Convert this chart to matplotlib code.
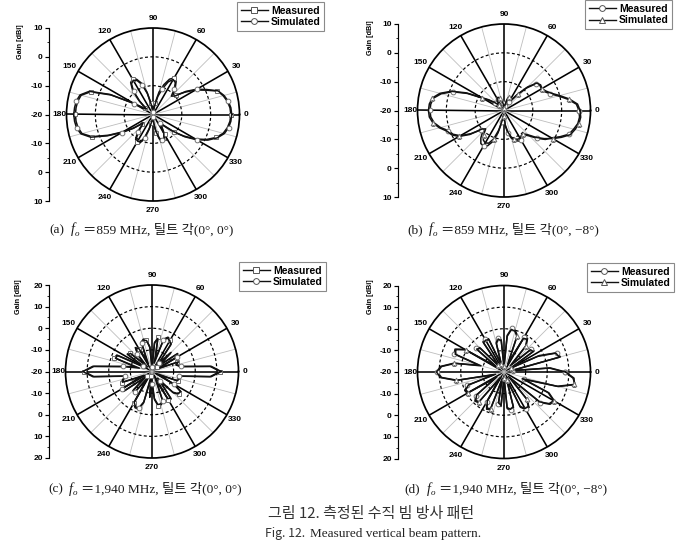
import numpy as np
import matplotlib
matplotlib.use('Agg')
import matplotlib.pyplot as plt
from matplotlib.lines import Line2D
from matplotlib.ticker import FixedLocator, FixedFormatter, MultipleLocator

W, H = 691, 545
fig = plt.figure(figsize=(W / 100, H / 100), dpi=100)

# ---------------- data (gain in dBi every 5 degrees, 0..355) ----------------
angles_deg = np.arange(0, 360, 5)

a_meas = [7.0, 6.8, 6.2, 5.2, 3.8, 0.0, -3.0, -6.5, -9.5, -10.0, -8.0, -6.0,
          -5.3, -6.5, -9.0, -12.0, -16.0, -18.5, -19.0, -18.0, -16.0, -12.0, -8.5, -6.5,
          -5.8, -6.5, -9.0, -13.0, -16.5, -16.0, -12.0, -4.0, 3.0, 5.8, 6.5, 6.8,
          6.9, 6.8, 6.4, 5.5, 2.5, -3.0, -8.0, -12.0, -15.0, -14.0, -11.5, -9.5,
          -8.8, -9.0, -11.0, -14.5, -17.0, -18.0, -18.5, -16.5, -13.5, -11.0, -10.2, -10.5,
          -12.0, -14.5, -15.5, -14.0, -10.5, -7.0, -3.0, 0.5, 3.3, 5.2, 6.2, 6.8]
a_sim = [7.3, 7.1, 6.5, 5.5, 4.0, 0.5, -2.5, -6.0, -10.0, -11.0, -8.5, -6.5,
         -6.0, -7.5, -10.5, -13.5, -17.0, -19.0, -19.0, -18.5, -16.5, -12.5, -9.0, -7.0,
         -6.3, -7.0, -9.5, -13.5, -17.0, -16.5, -12.5, -3.5, 3.5, 6.2, 7.0, 7.3,
         7.5, 7.3, 6.9, 5.9, 3.0, -2.5, -7.5, -11.5, -15.5, -14.5, -12.0, -10.0,
         -9.3, -9.5, -11.5, -15.0, -17.5, -18.5, -19.0, -17.0, -14.0, -11.5, -10.7, -11.0,
         -12.5, -15.0, -16.0, -14.5, -11.0, -6.5, -2.5, 1.0, 3.7, 5.6, 6.6, 7.1]

b_meas = [6.0, 5.2, 2.5, -0.5, -3.0, -4.5, -5.0, -4.8, -5.5, -9.0, -13.0, -16.0,
          -16.5, -15.5, -15.3, -16.5, -18.5, -19.0, -19.0, -18.5, -17.5, -16.5, -16.0, -15.5,
          -15.5, -16.5, -18.0, -17.5, -16.0, -14.0, -11.5, -6.0, -1.0, 2.5, 4.8, 5.5,
          5.7, 5.5, 4.6, 2.8, 0.5, -0.5, -2.5, -6.0, -9.5, -9.5, -7.5, -6.0,
          -5.8, -6.5, -8.5, -12.0, -16.0, -18.0, -17.5, -14.5, -12.0, -10.0, -9.0, -8.3,
          -8.0, -8.5, -9.0, -7.5, -5.0, -2.5, -1.0, 1.5, 4.0, 5.0, 6.0, 6.3]
b_sim = [6.4, 5.6, 3.0, 0.0, -2.5, -4.0, -4.8, -4.5, -5.2, -8.5, -12.5, -15.5,
         -16.0, -15.0, -15.0, -16.0, -18.0, -19.0, -19.0, -18.0, -17.0, -16.0, -15.5, -15.0,
         -15.2, -16.0, -17.5, -17.0, -15.5, -13.5, -11.0, -5.5, -0.5, 3.0, 5.2, 6.0,
         6.2, 6.0, 5.0, 3.2, 1.0, 0.0, -2.0, -5.5, -10.0, -11.0, -9.0, -7.5,
         -7.0, -7.5, -9.5, -13.0, -16.5, -18.5, -18.0, -15.0, -12.5, -10.5, -9.5, -9.0,
         -8.8, -9.5, -9.5, -8.0, -5.5, -3.0, -0.5, 2.0, 4.5, 5.5, 6.4, 6.7]

c_meas = [11.5, 7.0, -7.0, -8.0, -7.5, -17.0, -6.0, -6.0, -17.0, -8.0, -16.0, -4.5,
          -3.0, -2.5, -4.0, -16.0, -4.0, -7.0, -19.0, -9.0, -5.0, -4.5, -5.5, -16.0,
          -8.0, -6.5, -10.0, -17.0, -6.5, -6.0, -17.0, -2.0, -1.5, -14.0, -7.0, 7.0,
          11.5, 7.0, -8.0, -6.0, -5.0, -16.0, -3.5, -4.0, -17.0, -8.0, -7.0, -17.0,
          -3.0, -1.5, -1.5, -5.0, -18.0, -8.0, -16.0, -7.0, -4.0, -4.0, -5.0, -17.0,
          -5.0, -4.5, -16.0, -6.0, -3.5, -3.5, -8.0, -18.0, -7.0, -7.5, -8.0, 7.0]
c_sim = [12.0, 7.5, -6.5, -8.5, -7.0, -16.0, -6.5, -5.5, -15.0, -7.5, -15.0, -5.0,
         -3.5, -3.0, -4.5, -14.0, -4.5, -6.5, -18.0, -8.5, -5.5, -5.0, -6.0, -14.0,
         -7.5, -7.0, -9.5, -15.0, -7.0, -6.5, -15.0, -2.5, -2.0, -12.0, -6.5, 7.5,
         12.0, 7.5, -7.5, -6.5, -5.5, -14.0, -4.0, -4.5, -15.0, -7.5, -7.5, -15.0,
         -3.5, -2.0, -2.0, -5.5, -16.0, -8.5, -14.0, -7.5, -4.5, -4.5, -5.5, -15.0,
         -5.5, -5.0, -14.0, -6.5, -4.0, -4.0, -8.5, -16.0, -7.5, -7.0, -7.5, 7.5]

d_meas = [8.0, 1.0, -17.0, 7.0, 6.0, -2.0, -17.0, -3.0, -3.5, -16.0, -4.0, -1.0,
          -1.5, -16.0, -2.0, 0.0, 0.5, -3.0, -18.0, -5.0, -4.0, -6.0, -17.0, -3.0,
          -2.5, -3.0, -17.0, -4.0, -3.0, -16.0, 1.0, 5.0, 4.5, -8.0, 3.0, 9.0,
          10.8, 9.0, 2.0, -16.0, -2.0, 0.0, -0.5, -16.0, -3.0, -1.0, -1.5, -17.0,
          -4.0, -1.0, -1.5, -17.0, -5.0, -4.0, -18.0, -3.0, -2.0, -3.0, -17.0, -2.0,
          0.0, 0.0, -3.0, -17.0, 2.0, 6.0, 7.0, 3.0, -10.0, 6.0, 13.5, 12.0]
d_sim = [8.5, 1.5, -16.0, 6.5, 5.5, -3.0, -16.0, -3.5, -4.0, -15.0, -4.5, -1.5,
         -2.0, -15.0, -2.5, -0.5, 0.0, -3.5, -17.0, -5.5, -4.5, -6.5, -16.0, -3.5,
         -3.0, -3.5, -16.0, -4.5, -3.5, -15.0, 0.5, 4.5, 4.0, -9.0, 3.5, 9.5,
         11.2, 9.5, 2.5, -15.0, -2.5, -0.5, -1.0, -15.0, -3.5, -1.5, -2.0, -16.0,
         -4.5, -1.5, -2.0, -16.0, -5.5, -4.5, -17.0, -3.5, -2.5, -3.5, -16.0, -2.5,
         -0.5, -0.5, -3.5, -16.0, 1.5, 5.5, 6.5, 2.5, -11.0, 5.5, 13.0, 12.5]

gain_ticks_859 = ['10', '0', '-10', '-20', '-10', '0', '10']
gain_ticks_1940 = ['20', '10', '0', '-10', '-20', '-10', '0', '10', '20']
legend_labels = ['Measured', 'Simulated']

SANS = ['Liberation Sans', 'DejaVu Sans']
SERIF = ['Liberation Serif', 'Noto Sans CJK KR', 'DejaVu Serif']
KOR = ['Noto Sans CJK KR', 'DejaVu Sans']

panels = [
    dict(c=(153, 114.5), R=86.5, rlim=(-20, 10), rings=[-10, 0], meas=a_meas, sim=a_sim,
         mm='s', sm='o', ax_x=49, ticks=gain_ticks_859, glabel=(20, 42), leg=(237, 2)),
    dict(c=(504, 110.5), R=86.5, rlim=(-20, 10), rings=[-10, 0], meas=b_meas, sim=b_sim,
         mm='o', sm='^', ax_x=398, ticks=gain_ticks_859, glabel=(370, 38), leg=(585, 0.5)),
    dict(c=(152, 371.5), R=86.5, rlim=(-20, 20), rings=[-10, 0, 10], meas=c_meas, sim=c_sim,
         mm='s', sm='o', ax_x=49, ticks=gain_ticks_1940, glabel=(19, 297), leg=(239, 262)),
    dict(c=(504, 372), R=86.5, rlim=(-20, 20), rings=[-10, 0, 10], meas=d_meas, sim=d_sim,
         mm='o', sm='^', ax_x=398, ticks=gain_ticks_1940, glabel=(370, 297), leg=(587, 263)),
]

theta = np.deg2rad(np.append(angles_deg, 360))

for p in panels:
    cx, cy = p['c']
    R = p['R']
    ax = fig.add_axes([(cx - R) / W, 1 - (cy + R) / H, 2 * R / W, 2 * R / H], projection='polar')
    ax.set_theta_zero_location('E')
    ax.set_ylim(*p['rlim'])
    ax.set_yticks(p['rings'])
    ax.set_yticklabels([])
    ax.set_xticks(np.deg2rad(np.arange(0, 360, 30)))
    ax.set_xticklabels([])
    ax.set_xticks(np.deg2rad(np.arange(15, 360, 30)), minor=True)
    ax.set_xticklabels([], minor=True)
    ax.xaxis.grid(True, which='major', color='black', lw=1.15)
    ax.xaxis.grid(True, which='minor', color='#bdbdbd', lw=0.6)
    ax.yaxis.grid(True, color='black', lw=0.85, linestyle=(0, (2.5, 2)))
    ax.tick_params(which='both', length=0)
    ax.spines['polar'].set_linewidth(1.25)

    rm = np.append(p['meas'], p['meas'][0])
    rs = np.append(p['sim'], p['sim'][0])
    ax.plot(theta, rm, color='#111111', lw=1.1, marker=p['mm'], ms=3.4, mfc='white',
            mec='#707070', mew=0.7, markevery=(0, 4))
    ax.plot(theta, rs, color='#111111', lw=1.1, marker=p['sm'], ms=3.4, mfc='white',
            mec='#707070', mew=0.7, markevery=(2, 4))

    for ang in range(0, 360, 30):
        rr = 0.54 if ang in (0, 180) else 0.555
        t = np.deg2rad(ang)
        ax.text(0.5 + rr * np.cos(t), 0.5 + rr * np.sin(t), str(ang), transform=ax.transAxes,
                ha='center', va='center', fontsize=6, fontweight='bold', family=SANS,
                clip_on=False)

    # gain axis
    span = p['rlim'][1] - p['rlim'][0]
    gax = fig.add_axes([p['ax_x'] / W, 1 - (cy + R) / H, 0.0001, 2 * R / H])
    gax.set_facecolor('none')
    gax.set_ylim(-span, span)
    gax.set_xticks([])
    for s in ['top', 'right', 'bottom']:
        gax.spines[s].set_visible(False)
    gax.spines['left'].set_linewidth(0.85)
    pos = list(np.arange(-span, span + 1, 10))
    gax.yaxis.set_major_locator(FixedLocator(pos))
    gax.yaxis.set_major_formatter(FixedFormatter(p['ticks'][::-1]))
    gax.yaxis.set_minor_locator(MultipleLocator(5))
    gax.tick_params(axis='y', which='major', length=3, width=0.85, labelsize=6, pad=1.5)
    gax.tick_params(axis='y', which='minor', length=1.8, width=0.6)
    for tl in gax.get_yticklabels():
        tl.set_fontweight('bold')
        tl.set_family(SANS)
    gx, gy = p['glabel']
    fig.text(gx / W, 1 - gy / H, 'Gain [dBi]', rotation=90, fontsize=5.2, fontweight='bold',
             family=SANS, ha='center', va='center')

    # legend
    h1 = Line2D([], [], color='#111111', lw=1.0, marker=p['mm'], ms=4.2, mfc='white',
                mec='#555555', mew=0.7)
    h2 = Line2D([], [], color='#111111', lw=1.0, marker=p['sm'], ms=4.2, mfc='white',
                mec='#555555', mew=0.7)
    lx, ly = p['leg']
    leg = fig.legend([h1, h2], legend_labels, loc='upper left',
                     bbox_to_anchor=(lx / W, 1 - ly / H), frameon=True, fancybox=False,
                     edgecolor='#8a8a8a', framealpha=1,
                     prop=dict(family=SANS, weight='bold', size=7.5),
                     handlelength=2.6, handletextpad=0.3, borderpad=0.35,
                     labelspacing=0.12, borderaxespad=0)
    leg.get_frame().set_linewidth(0.8)

# ---------------- captions ----------------
renderer = fig.canvas.get_renderer()


def rich_text(xc_px, base_px, pieces):
    objs = []
    total = 0.0
    for s, kw, dy, gap in pieces:
        t = fig.text(0, 1 - (base_px - dy) / H, s, ha='left', va='baseline', **kw)
        w = t.get_window_extent(renderer).width
        objs.append((t, w, gap))
        total += w + gap
    x = xc_px - total / 2
    for t, w, gap in objs:
        t.set_x(x / W)
        x += w + gap


serif_kw = dict(family=SERIF, fontsize=9.6, color='#1a1a1a')
ital_kw = dict(family=SERIF, fontsize=10.2, style='italic', color='#1a1a1a')
sub_kw = dict(family=SERIF, fontsize=6.5, style='italic', color='#1a1a1a')

captions = [
    (141.5, 233.5, '(a)', '＝859 MHz, 틸트 각(0°, 0°)'),
    (503.0, 233.5, '(b)', '＝859 MHz, 틸트 각(0°, −8°)'),
    (145.0, 492.5, '(c)', '＝1,940 MHz, 틸트 각(0°, 0°)'),
    (506.0, 492.5, '(d)', '＝1,940 MHz, 틸트 각(0°, −8°)'),
]
for xc, yb, tag, rest in captions:
    rich_text(xc, yb, [(tag, serif_kw, 0, 6), ('f', ital_kw, 0, 0.3),
                       ('o', sub_kw, -2.5, 4), (rest, serif_kw, 0, 0)])

rich_text(371.5, 518, [('그림 12. 측정된 수직 빔 방사 패턴', dict(family=KOR, fontsize=10.8, color='#333333'), 0, 0)])
rich_text(373.0, 536.5, [('Fig. 12.', dict(family=KOR, fontsize=8.8, color='#333333'), 0, 4),
                         ('Measured vertical beam pattern.', dict(family=SERIF, fontsize=9.5, color='#222222'), 0, 0)])

fig.savefig('out.png', dpi=100)
